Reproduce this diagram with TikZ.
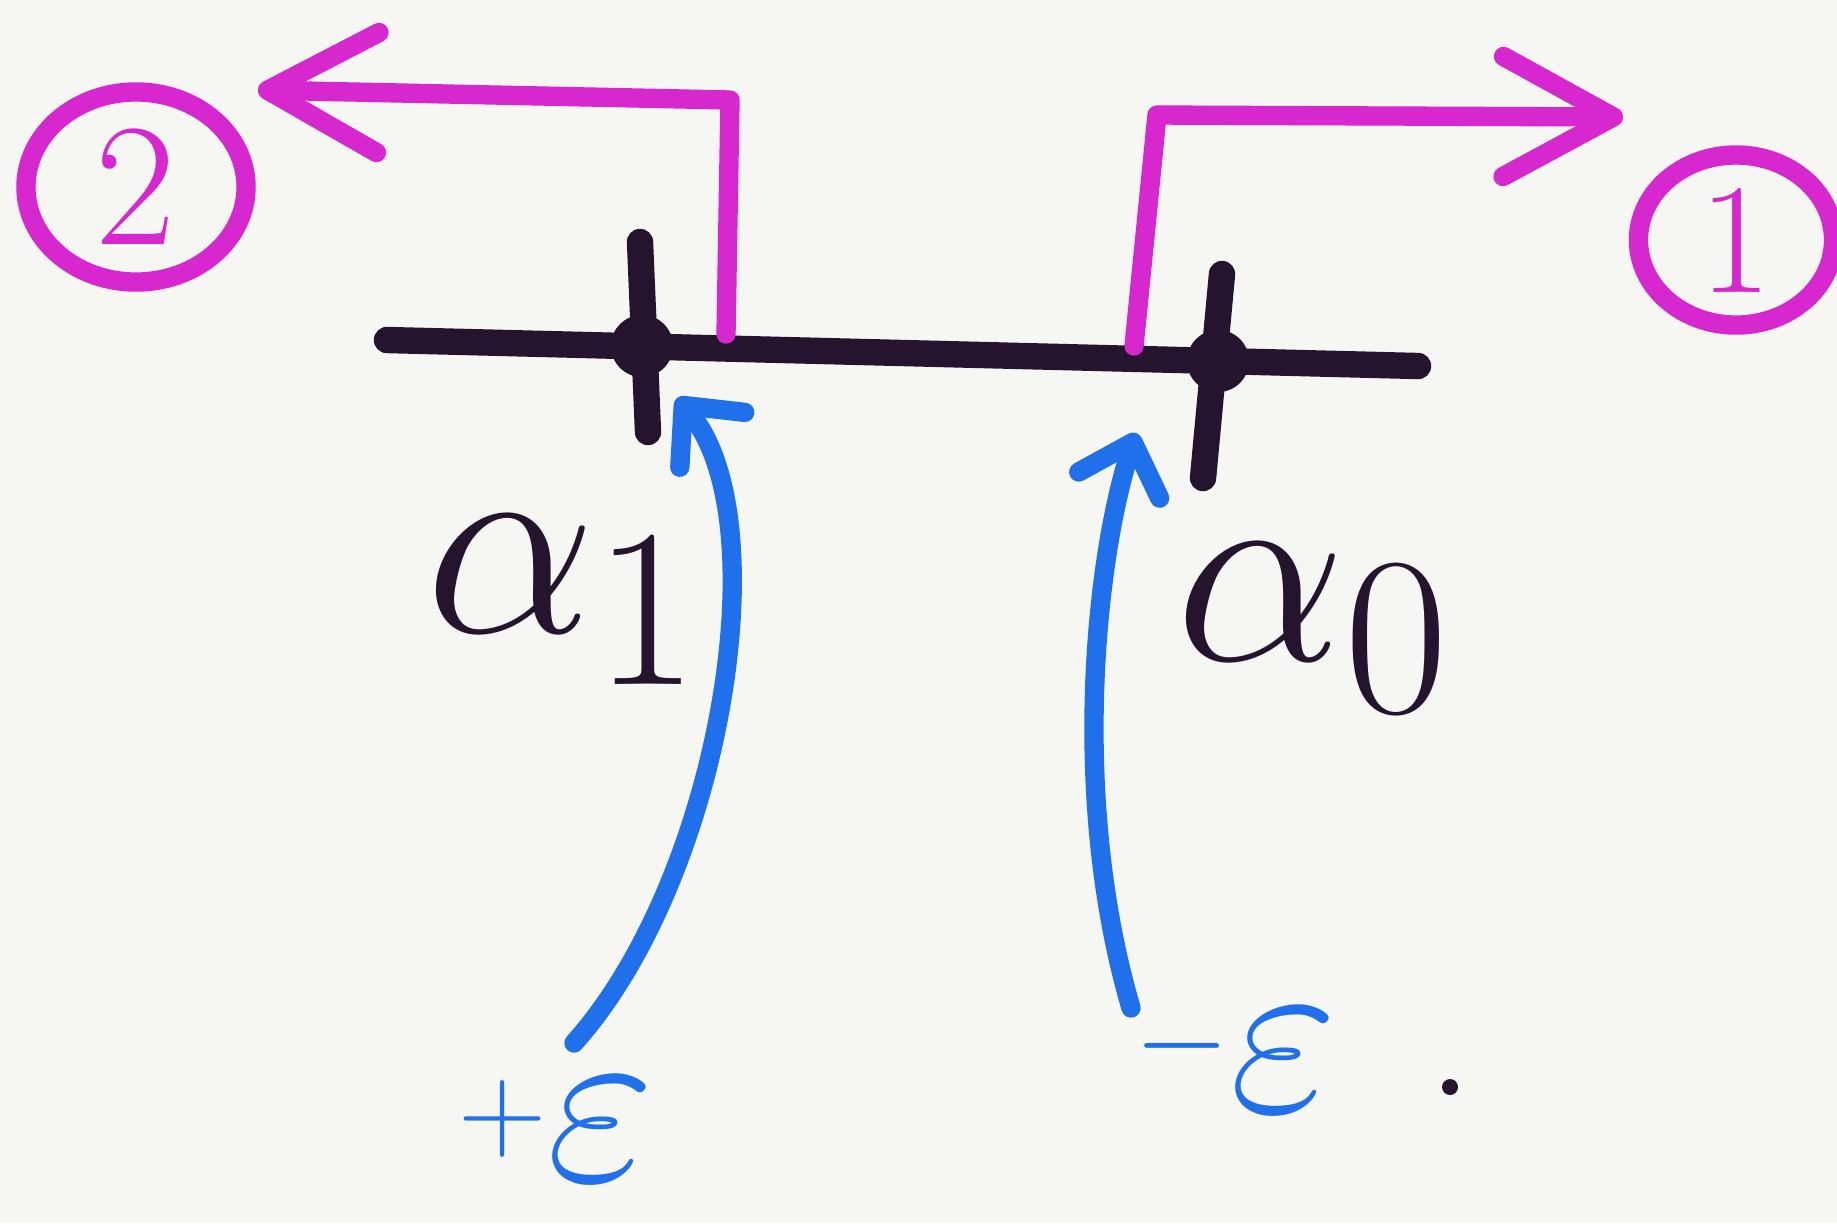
\documentclass[tikz,border=0pt]{standalone}
\usepackage{tikz}
\usepackage{graphicx}
\usetikzlibrary{arrows.meta,shapes.geometric}
\definecolor{paper}{RGB}{246,246,243}
\definecolor{inkblack}{RGB}{36,20,46}
\definecolor{inkpink}{RGB}{214,40,206}
\definecolor{inkblue}{RGB}{32,112,236}

\begin{document}
\begin{tikzpicture}[x=0.01cm,y=-0.01cm,
  blackpen/.style={inkblack,line width=7.5pt,line cap=round},
  pinkpen/.style={inkpink,line width=5.5pt,line cap=round,line join=round},
  bluepen/.style={inkblue,line width=5.5pt,line cap=round,line join=round},
  pinkhead/.style={-{Straight Barb[length=1.1cm,width=1.2cm,round]}},
  bluehead/.style={-{Straight Barb[length=0.45cm,width=0.85cm,round]}},
  blob/.style={circle,fill=inkblack,inner sep=0pt,minimum size=#1},
  ring/.style={ellipse,draw=inkpink,line width=5.5pt,text=inkpink,inner sep=0pt}]
  \useasboundingbox (0,0) rectangle (1837,1223);
  \fill[paper] (0,0) rectangle (1837,1223);
  % the axis with its two points
  \coordinate (axisW) at (387,340);
  \coordinate (axisE) at (1418,366);
  \draw[blackpen] (axisW) -- (axisE);
  \node[blob=0.62cm] (aone) at (642,346) {};
  \node[blob=0.62cm] (azero) at (1218,361) {};
  \draw[blackpen] (640,242) -- (648,432);
  \draw[blackpen] (1222,274) -- (1203,478);
  \node[text=inkblack] (labone) at (565,600) {\scalebox{3.1}{\Huge $\alpha_1$}};
  \node[text=inkblack] (labzero) at (1315,628) {\scalebox{3.1}{\Huge $\alpha_0$}};
  % outgoing branches
  \node[ring,minimum width=2.2cm,minimum height=1.9cm] (two) at (136,187) {\scalebox{2}{\Huge 2}};
  \node[ring,minimum width=1.95cm,minimum height=1.7cm] (one) at (1736,240) {\scalebox{1.8}{\Huge 1}};
  \coordinate (footL) at (726,334);
  \coordinate (kneeL) at (730,100);
  \coordinate (tipL) at (258,90);
  \draw[pinkpen,pinkhead] (footL) -- (kneeL) -- (tipL);
  \coordinate (footR) at (1134,346);
  \coordinate (kneeR) at (1157,115);
  \coordinate (tipR) at (1623,117);
  \draw[pinkpen,pinkhead] (footR) -- (kneeR) -- (tipR);
  % incoming perturbations
  \node[text=inkblue,inner sep=0pt] (plus) at (557,1130) {\Huge\raisebox{9pt}{\scalebox{1.4}{$+$}}\scalebox{2.7}{$\varepsilon$}};
  \node[text=inkblue,inner sep=0pt] (minus) at (1236,1058) {\Huge\raisebox{10pt}{\scalebox{1.4}{$-$}}\scalebox{2.7}{$\varepsilon$}};
  \coordinate (tailA) at (574,1043);
  \coordinate (tipA) at (677,398);
  \draw[bluepen,bluehead] (tailA) .. controls (720,880) and (780,520) .. (tipA);
  \coordinate (tailB) at (1131,1008);
  \coordinate (tipB) at (1136,433);
  \draw[bluepen,bluehead] (tailB) .. controls (1070,800) and (1095,560) .. (tipB);
  \node[blob=0.16cm] (stop) at (1450,1087) {};
\end{tikzpicture}
\end{document}
